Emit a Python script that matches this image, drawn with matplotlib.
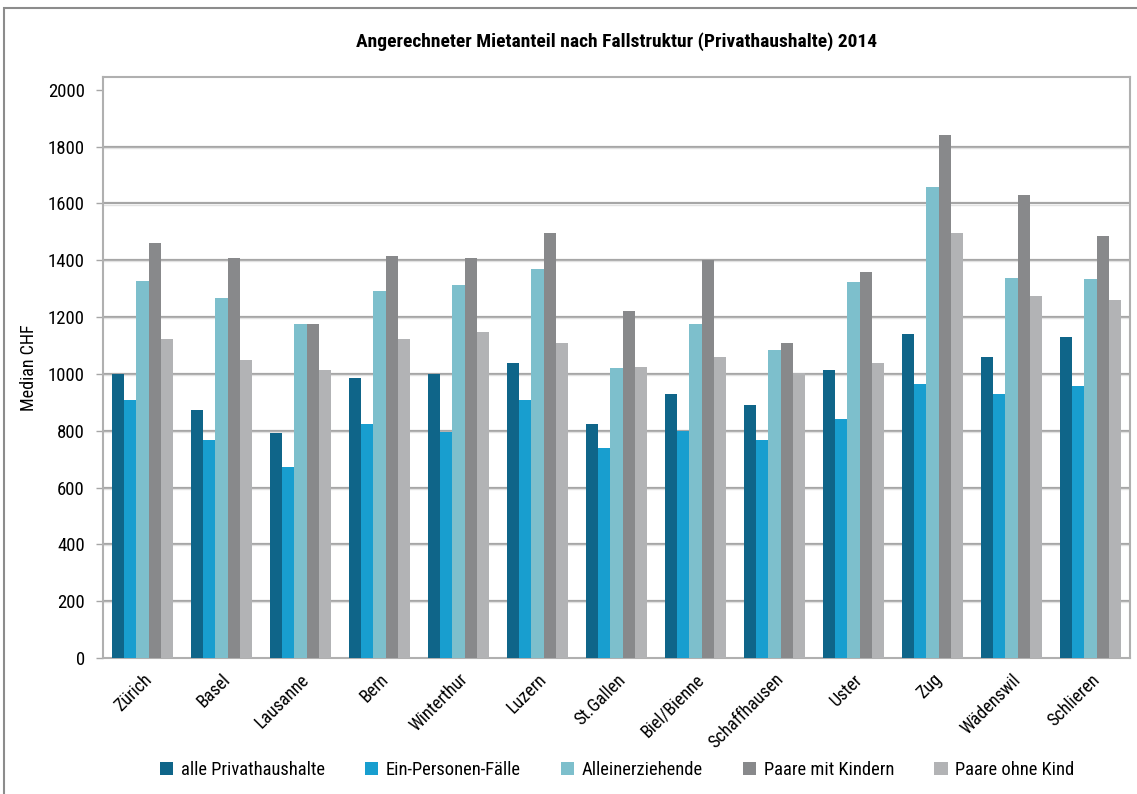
import matplotlib
matplotlib.use("Agg")
import matplotlib.pyplot as plt
from matplotlib import font_manager
import numpy as np
from matplotlib.patches import Rectangle


def pick_font(candidates):
    for name in candidates:
        try:
            font_manager.findfont(font_manager.FontProperties(family=name),
                                  fallback_to_default=False)
            return name
        except Exception:
            continue
    return "DejaVu Sans"


base_font = pick_font(["Roboto Condensed", "Open Sans Condensed", "Liberation Sans Narrow",
                       "Roboto", "DejaVu Sans"])
plt.rcParams['font.family'] = [base_font, 'DejaVu Sans']

cities = ["Zürich", "Basel", "Lausanne", "Bern", "Winterthur", "Luzern", "St.Gallen",
          "Biel/Bienne", "Schaffhausen", "Uster", "Zug", "Wädenswil", "Schlieren"]

alle_privathaushalte = [1000, 873, 792, 985, 1000, 1038, 823, 929, 890, 1013, 1140, 1059, 1129]
ein_personen_faelle = [908, 767, 672, 823, 795, 908, 739, 799, 767, 841, 964, 929, 957]
alleinerziehende = [1327, 1267, 1175, 1291, 1312, 1369, 1020, 1175, 1084, 1323, 1657, 1337, 1334]
paare_mit_kindern = [1460, 1407, 1175, 1414, 1407, 1495, 1221, 1400, 1108, 1358, 1842, 1629, 1485]
paare_ohne_kind = [1122, 1049, 1013, 1122, 1147, 1108, 1024, 1059, 1003, 1038, 1495, 1274, 1260]

series_names = ["alle Privathaushalte", "Ein-Personen-Fälle", "Alleinerziehende",
                "Paare mit Kindern", "Paare ohne Kind"]
series_values = [alle_privathaushalte, ein_personen_faelle, alleinerziehende,
                 paare_mit_kindern, paare_ohne_kind]
colors = ["#0F6589", "#189ECF", "#7DBFCC", "#88898B", "#B2B3B5"]

y_ticks = [0, 200, 400, 600, 800, 1000, 1200, 1400, 1600, 1800, 2000]

W, H = 1137, 794
fig = plt.figure(figsize=(W / 100, H / 100), dpi=100)

# outer frame of the chart box
fig.patches.append(Rectangle((4 / W, -0.05), 1.2, 1 - 8 / H + 0.05, transform=fig.transFigure,
                             fill=False, edgecolor="#8C8C8C", linewidth=1.5))

ax = fig.add_axes([103 / W, 1 - 658 / H, (1130 - 103) / W, (658 - 77) / H])

n = len(cities)
x = np.arange(n)
bw = 0.152
for i, (name, vals, c) in enumerate(zip(series_names, series_values, colors)):
    ax.bar(x + (i - 2) * bw, vals, width=bw, color=c, label=name, zorder=3, linewidth=0)

ax.set_xlim(-0.5, n - 0.5)
ax.set_ylim(0, 2045)
ax.set_yticks(y_ticks)
ax.set_yticklabels([str(v) for v in y_ticks], fontsize=13.5)
for v in y_ticks[1:-1]:
    ax.axhline(v, color="#A6A6A6", linewidth=1.6, zorder=1)
    ax.axhline(v - 4, color="#E2E2E2", linewidth=1.0, zorder=1)

ax.set_xticks(x)
ax.set_xticklabels(cities, rotation=45, ha="right", va="top", rotation_mode="anchor",
                   fontsize=13)
ax.tick_params(axis="x", length=0, pad=9)
ax.tick_params(axis="y", length=5, width=1, color="#A6A6A6", pad=8)

for side in ["left", "right", "top", "bottom"]:
    ax.spines[side].set_color("#B0B0B0")
    ax.spines[side].set_linewidth(1.5)

ax.set_ylabel("Median CHF", fontsize=13)
ax.yaxis.set_label_coords(-0.0633, 0.5)

fig.text(617 / W, 1 - 42 / H, "Angerechneter Mietanteil nach Fallstruktur (Privathaushalte) 2014",
         ha="center", va="center", fontsize=14, fontweight="bold")

fig.legend(loc="center", bbox_to_anchor=(617 / W, 1 - 770 / H), ncol=5, frameon=False,
           fontsize=13.3, handlelength=0.75, handleheight=0.75, columnspacing=2.15,
           handletextpad=0.4)

fig.savefig("out.png", dpi=100)
